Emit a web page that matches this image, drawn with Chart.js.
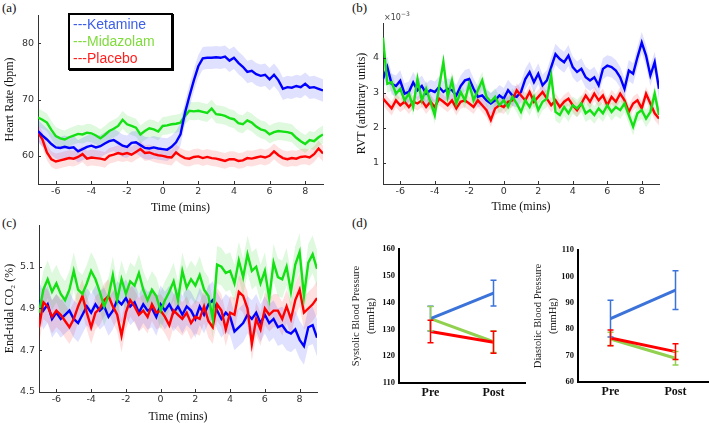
<!DOCTYPE html>
<html>
<head>
<meta charset="utf-8">
<script src="https://cdn.jsdelivr.net/npm/chart.js@4.4.1/dist/chart.umd.min.js"></script>
<style>
    body { margin: 0; width: 709px; height: 423px; overflow: hidden; position: relative; background: #fff; font-family: "Liberation Serif", "DejaVu Serif", serif; }
    canvas { position: absolute; }
    .tag { position: absolute; font-size: 13px; color: #111; line-height: 14px; }
    #legend { position: absolute; left: 68px; top: 13px; width: 98px; height: 52px; border: 2px solid #000; box-shadow: 1px 1px 0 #000; background: #fff; padding: 1px 0 0 3px; font: 14px "Liberation Sans", Arial, sans-serif; line-height: 17px; }
</style>
</head>
<body>
<div class="tag" style="left:2px;top:1px">(a)</div>
<div class="tag" style="left:352px;top:1px">(b)</div>
<div class="tag" style="left:2px;top:216px">(c)</div>
<div class="tag" style="left:352px;top:216px">(d)</div>

<canvas id="hrChart" width="330" height="218" style="left:0;top:0"></canvas>
<canvas id="rvtChart" width="313" height="218" style="left:352px;top:0"></canvas>
<canvas id="co2Chart" width="330" height="220" style="left:0;top:210px"></canvas>
<canvas id="sysChart" width="185" height="193" style="left:345px;top:230px"></canvas>
<canvas id="diaChart" width="184" height="193" style="left:525px;top:230px"></canvas>

<div id="legend">
    <div style="color:#3d5ee6">---Ketamine</div>
    <div style="color:#7fdc3c">---Midazolam</div>
    <div style="color:#ff1f1f">---Placebo</div>
</div>

<script>
const minutes = [-7, -6.75, -6.5, -6.25, -6, -5.75, -5.5, -5.25, -5, -4.75, -4.5, -4.25, -4, -3.75, -3.5, -3.25,
    -3, -2.75, -2.5, -2.25, -2, -1.75, -1.5, -1.25, -1, -0.75, -0.5, -0.25, 0, 0.25, 0.5, 0.75,
    1, 1.25, 1.5, 1.75, 2, 2.25, 2.5, 2.75, 3, 3.25, 3.5, 3.75, 4, 4.25, 4.5, 4.75,
    5, 5.25, 5.5, 5.75, 6, 6.25, 6.5, 6.75, 7, 7.25, 7.5, 7.75, 8, 8.25, 8.5, 8.75, 9];
const timeTicks = [-6, -4, -2, 0, 2, 4, 6, 8];

// (a) heart rate, bpm
const hrKetamine = [64.4, 63.6, 62.9, 62.1, 61.5, 61.4, 61.6, 61.4, 61.5, 60.8, 61.2, 61.6, 61.8, 61.5, 61.7, 62.2,
    62.6, 62.8, 62.3, 61.8, 61.6, 62.3, 62.4, 61.9, 61.4, 61.3, 61.5, 61.3, 61.2, 61.1, 61.6, 62.4,
    63.8, 67.6, 70.6, 73.4, 75.9, 77.3, 77.4, 77.4, 77.5, 77.4, 77.6, 76.9, 77.4, 76.5, 75.8, 74.9,
    75.1, 74.5, 74.2, 74.4, 73.6, 74.4, 73.4, 71.9, 72.2, 72.1, 72.4, 72.2, 72.8, 72.1, 72.2, 71.9, 71.6];
const hrMidazolam = [66.8, 66.4, 65.9, 64.6, 63.5, 63.1, 62.9, 63.3, 63.6, 63.9, 63.8, 64.1, 64.0, 63.6, 63.1, 63.7,
    64.4, 64.8, 65.3, 66.4, 65.6, 65.3, 65.0, 63.8, 64.4, 64.9, 64.7, 64.3, 65.3, 65.4, 65.6, 65.7,
    65.9, 67.1, 68.0, 67.9, 68.0, 67.8, 67.6, 68.4, 67.4, 67.3, 67.1, 66.7, 66.5, 65.8, 65.6, 66.3,
    65.9, 65.2, 64.7, 64.5, 63.8, 64.2, 64.4, 64.3, 64.2, 64.0, 63.2, 62.6, 62.1, 62.8, 62.6, 63.3, 63.8];
const hrPlacebo = [64.2, 62.9, 60.6, 59.4, 59.0, 59.2, 59.4, 59.6, 59.5, 59.8, 60.3, 59.5, 59.7, 59.6, 59.5, 59.3,
    60.0, 60.2, 60.5, 60.3, 60.5, 60.2, 60.7, 61.2, 60.5, 60.6, 60.3, 60.1, 60.0, 59.8, 59.7, 60.6,
    60.0, 59.6, 59.5, 59.8, 59.9, 59.6, 59.8, 59.6, 59.5, 59.3, 59.1, 59.4, 59.4, 59.1, 59.2, 59.6,
    59.5, 59.7, 59.9, 59.7, 60.0, 60.8, 60.1, 59.6, 59.4, 59.6, 59.5, 59.8, 59.9, 59.7, 60.3, 61.3, 60.4];
const hrSem = [2.0, 1.6, 1.4];
const hrTicks = [60, 70, 80];

// (b) RVT, x10^-3 arbitrary units
const rvtKetamine = [3.4, 3.74, 3.26, 3.2, 3.35, 2.98, 3.03, 3.3, 3.08, 3.2, 2.98, 3.08, 3.03, 3.17, 3.03, 3.12,
    3.08, 2.93, 3.2, 3.36, 3.4, 3.12, 2.89, 2.93, 2.79, 2.7, 2.79, 2.93, 2.84, 3.08, 2.93, 2.89,
    3.03, 3.4, 3.6, 3.31, 3.55, 3.22, 3.36, 3.74, 4.11, 3.97, 3.88, 4.07, 3.74, 3.6, 3.69, 3.45,
    3.36, 3.45, 3.22, 3.69, 3.78, 3.74, 3.64, 3.45, 3.12, 3.64, 3.55, 4.02, 4.44, 4.07, 3.5, 3.88, 3.12];
const rvtMidazolam = [4.58, 3.26, 3.31, 2.98, 3.12, 2.79, 2.98, 2.6, 3.4, 2.79, 3.12, 2.75, 2.37, 3.17, 3.88, 2.89,
    3.36, 2.7, 3.03, 2.79, 3.26, 2.79, 3.08, 3.36, 2.89, 2.75, 2.89, 2.65, 2.79, 2.6, 2.89, 2.7,
    2.46, 2.79, 2.6, 2.89, 2.51, 2.75, 2.84, 3.5, 2.46, 2.37, 2.6, 2.42, 2.65, 2.56, 2.7, 2.42,
    2.51, 2.37, 2.56, 2.42, 2.65, 2.46, 2.6, 2.51, 2.7, 2.37, 2.04, 2.42, 2.51, 2.27, 2.46, 2.98, 2.37];
const rvtPlacebo = [2.84, 2.7, 2.56, 2.79, 2.65, 2.75, 2.6, 2.75, 2.7, 2.79, 2.6, 2.75, 2.6, 2.84, 2.75, 2.65,
    2.79, 2.56, 2.75, 2.79, 2.7, 2.6, 2.79, 2.65, 2.51, 2.23, 2.56, 2.65, 2.6, 2.75, 2.79, 3.08,
    2.93, 2.79, 3.03, 2.75, 2.89, 3.03, 2.84, 2.65, 2.79, 2.6, 2.75, 2.84, 2.65, 2.51, 2.7, 2.93,
    2.75, 2.98, 2.79, 2.93, 2.65, 2.89, 2.75, 2.98, 2.79, 2.46, 2.7, 2.79, 2.56, 2.98, 2.7, 2.42, 2.27];
const rvtSem = [0.3, 0.25, 0.2];
const rvtTicks = [1, 2, 3, 4];

// (c) end-tidal CO2, %
const co2Ketamine = [4.94, 4.89, 4.92, 4.85, 4.88, 4.85, 4.87, 4.89, 4.85, 4.83, 4.87, 4.91, 4.88, 4.92, 4.89, 4.91,
    4.86, 4.89, 4.94, 4.92, 4.95, 4.91, 4.93, 4.88, 4.92, 4.89, 4.9, 4.86, 4.92, 4.89, 4.92, 4.88,
    4.91, 4.87, 4.91, 4.89, 4.85, 4.91, 4.87, 4.92, 4.94, 4.89, 4.85, 4.88, 4.86, 4.79, 4.81, 4.83,
    4.87, 4.85, 4.88, 4.83, 4.87, 4.83, 4.85, 4.81, 4.82, 4.79, 4.78, 4.8, 4.75, 4.72, 4.81, 4.82, 4.76];
const co2Midazolam = [4.88, 4.99, 5.04, 4.98, 5.02, 4.97, 4.94, 4.99, 5.08, 4.99, 4.97, 5.02, 5.08, 5.04, 4.98, 4.91,
    4.96, 5.06, 4.94, 5.04, 4.97, 5.03, 5.01, 5.07, 4.99, 4.94, 4.99, 4.96, 4.89, 4.94, 4.98, 5.03,
    4.94, 5.08, 5.0, 5.04, 5.01, 5.06, 4.99, 4.96, 4.85, 5.11, 5.1, 5.07, 5.08, 5.02, 5.13, 5.05,
    5.16, 5.08, 5.1, 5.02, 5.08, 4.95, 5.12, 5.05, 5.04, 5.1, 4.98, 5.11, 5.17, 4.96, 5.12, 5.16, 5.09];
const co2Placebo = [4.81, 4.93, 4.91, 4.86, 4.89, 4.87, 4.84, 4.81, 4.85, 4.91, 4.96, 4.88, 4.81, 4.88, 4.9, 4.94,
    4.96, 4.91, 4.87, 4.77, 4.88, 4.94, 4.91, 4.87, 4.89, 4.86, 4.92, 4.88, 4.89, 4.86, 4.82, 4.89,
    4.87, 4.85, 4.88, 4.83, 4.86, 4.85, 4.91, 4.84, 4.81, 4.92, 4.89, 4.8, 4.88, 4.87, 4.98, 4.96,
    4.9, 4.73, 4.85, 4.8, 4.9, 4.87, 4.89, 4.89, 4.85, 4.91, 4.85, 4.94, 4.99, 4.88, 4.9, 4.92, 4.95];
const co2Sem = [0.09, 0.09, 0.08];
const co2Ticks = [4.5, 4.7, 4.9, 5.1];

// (d) blood pressure, mmHg, mean and error
const bpPhases = ["Pre", "Post"];
const sysKetamine = [134, 143.5], sysKetamineErr = [4.6, 4.8];
const sysMidazolam = [134, 125.4], sysMidazolamErr = [4.5, 4.0];
const sysPlacebo = [129.2, 125.2], sysPlaceboErr = [4.2, 4.1];
const diaKetamine = [84, 94.8], diaKetamineErr = [7.0, 7.3];
const diaMidazolam = [76.3, 69], diaMidazolamErr = [2.5, 2.6];
const diaPlacebo = [76.7, 71.5], diaPlaceboErr = [3.0, 3.0];
const sysTicks = [110, 120, 130, 140, 150, 160];
const diaTicks = [60, 70, 80, 90, 100, 110];

const lineColors = ["#0000ff", "#14e014", "#ff0000"];
const bandColors = ["rgba(0,0,255,0.12)", "rgba(0,210,0,0.13)", "rgba(255,0,0,0.12)"];
const bpColors = ["#3b73d9", "#92d050", "#ff0000"];

const serif = "'Liberation Serif', 'DejaVu Serif', serif";
const sans = "'DejaVu Sans', sans-serif";

const inwardTicks = {
    id: "inwardTicks",
    afterDraw(chart) {
        const { ctx, chartArea: a, scales: { x, y } } = chart;
        ctx.save();
        ctx.strokeStyle = "#333";
        ctx.lineWidth = 1;
        ctx.beginPath();
        x.ticks.forEach(t => {
            const px = Math.round(x.getPixelForValue(t.value)) + 0.5;
            ctx.moveTo(px, a.bottom);
            ctx.lineTo(px, a.bottom - 3);
        });
        y.ticks.forEach(t => {
            const py = Math.round(y.getPixelForValue(t.value)) + 0.5;
            ctx.moveTo(a.left, py);
            ctx.lineTo(a.left + 3, py);
        });
        ctx.stroke();
        ctx.restore();
    }
};

const errorBars = {
    id: "errorBars",
    afterDatasetsDraw(chart) {
        const { ctx, scales: { y } } = chart;
        ctx.save();
        ctx.lineWidth = 1.5;
        chart.data.datasets.forEach((ds, i) => {
            const meta = chart.getDatasetMeta(i);
            ctx.strokeStyle = ds.borderColor;
            ds.data.forEach((v, j) => {
                const px = meta.data[j].x;
                const top = y.getPixelForValue(v + ds.errors[j]);
                const bottom = y.getPixelForValue(v - ds.errors[j]);
                ctx.beginPath();
                ctx.moveTo(px, top); ctx.lineTo(px, bottom);
                ctx.moveTo(px - 3, top); ctx.lineTo(px + 3, top);
                ctx.moveTo(px - 3, bottom); ctx.lineTo(px + 3, bottom);
                ctx.stroke();
            });
        });
        ctx.restore();
    }
};

const rvtExponent = {
    id: "rvtExponent",
    afterDraw(chart) {
        const { ctx, chartArea: a } = chart;
        ctx.save();
        ctx.fillStyle = "#444";
        ctx.font = "8px " + sans;
        ctx.textBaseline = "alphabetic";
        ctx.fillText("×10", a.left + 1, a.top - 3);
        ctx.font = "6px " + sans;
        ctx.fillText("−3", a.left + 18, a.top - 7);
        ctx.restore();
    }
};

function toPoints(values, shift) {
    return values.map((v, i) => ({ x: minutes[i], y: v + shift }));
}

function timeChart(id, cfg) {
    const datasets = [];
    cfg.series.forEach((values, k) => {
        datasets.push({
            data: toPoints(values, 0),
            borderColor: lineColors[k],
            borderWidth: 2.4,
            fill: false,
            order: cfg.lineOrder[k]
        });
    });
    cfg.series.forEach((values, k) => {
        datasets.push({
            data: toPoints(values, cfg.sem[k]),
            borderWidth: 0,
            borderColor: "transparent",
            backgroundColor: bandColors[k],
            fill: "+1",
            order: 10
        });
        datasets.push({
            data: toPoints(values, -cfg.sem[k]),
            borderWidth: 0,
            borderColor: "transparent",
            fill: false,
            order: 10
        });
    });

    return new Chart(document.getElementById(id), {
        type: "line",
        data: { datasets },
        plugins: [inwardTicks].concat(cfg.plugins || []),
        options: {
            responsive: false,
            animation: false,
            devicePixelRatio: 1,
            layout: { padding: { top: cfg.padTop, right: cfg.padRight, left: 0, bottom: 0 } },
            elements: { point: { radius: 0 }, line: { tension: 0 } },
            plugins: { legend: { display: false }, tooltip: { enabled: false } },
            scales: {
                x: {
                    type: "linear",
                    min: -7,
                    max: 9,
                    afterBuildTicks: s => { s.ticks = timeTicks.map(v => ({ value: v })); },
                    afterFit: s => { s.height = cfg.xHeight; },
                    grid: { display: false, drawTicks: false },
                    border: { display: true, color: "#333", width: 1 },
                    ticks: { color: "#333", padding: 2, font: { family: sans, size: 9.5 }, callback: v => String(v) },
                    title: { display: true, text: "Time (mins)", color: "#111", font: { family: serif, size: 12 }, padding: { top: 0, bottom: cfg.xTitlePad } }
                },
                y: {
                    min: cfg.yMin,
                    max: cfg.yMax,
                    afterBuildTicks: s => { s.ticks = cfg.yTicks.map(v => ({ value: v })); },
                    afterFit: s => { s.width = cfg.yWidth; },
                    grid: { display: false, drawTicks: false },
                    border: { display: true, color: "#333", width: 1 },
                    ticks: { color: "#333", padding: 4, font: { family: sans, size: 9.5 }, callback: v => String(v) },
                    title: { display: true, text: cfg.yTitle, color: "#111", font: { family: serif, size: 12 }, padding: { top: 3, bottom: 0 } }
                }
            }
        }
    });
}

function bpChart(id, cfg) {
    const datasets = cfg.series.map((values, k) => ({
        data: values,
        errors: cfg.errors[k],
        borderColor: bpColors[k],
        borderWidth: 3,
        fill: false,
        order: cfg.lineOrder[k]
    }));

    return new Chart(document.getElementById(id), {
        type: "line",
        data: { labels: bpPhases, datasets },
        plugins: [errorBars],
        options: {
            responsive: false,
            animation: false,
            devicePixelRatio: 1,
            layout: { padding: { top: cfg.padTop, right: cfg.padRight, left: 0, bottom: 0 } },
            elements: { point: { radius: 0 }, line: { tension: 0 } },
            plugins: { legend: { display: false }, tooltip: { enabled: false } },
            scales: {
                x: {
                    type: "category",
                    offset: true,
                    afterFit: s => { s.height = cfg.xHeight; },
                    grid: { display: false, drawTicks: false },
                    border: { display: true, color: "#000", width: 2 },
                    ticks: { color: "#111", padding: 3, font: { family: serif, size: 12, weight: "bold" } }
                },
                y: {
                    min: cfg.yTicks[0],
                    max: cfg.yTicks[cfg.yTicks.length - 1],
                    afterBuildTicks: s => { s.ticks = cfg.yTicks.map(v => ({ value: v })); },
                    afterFit: s => { s.width = cfg.yWidth; },
                    grid: { display: false, drawTicks: false },
                    border: { display: true, color: "#000", width: 2 },
                    ticks: { color: "#111", padding: 4, font: { family: serif, size: 8.5, weight: "bold" } },
                    title: {
                        display: true,
                        text: [cfg.yTitle, "(mmHg)"],
                        color: "#222",
                        font: { family: serif, size: 10.5, lineHeight: 1.5 },
                        padding: { top: cfg.yTitlePad, bottom: 0 }
                    }
                }
            }
        }
    });
}

timeChart("hrChart", {
    series: [hrKetamine, hrMidazolam, hrPlacebo],
    sem: hrSem,
    lineOrder: [0, 1, 2],
    yMin: 55, yMax: 85, yTicks: hrTicks,
    yTitle: "Heart Rate (bpm)",
    yWidth: 38, xHeight: 34, padTop: 15, padRight: 7, xTitlePad: 3
});

timeChart("rvtChart", {
    series: [rvtKetamine, rvtMidazolam, rvtPlacebo],
    sem: rvtSem,
    lineOrder: [2, 0, 1],
    yMin: 0.4, yMax: 5, yTicks: rvtTicks,
    yTitle: "RVT (arbitrary units)",
    yWidth: 31, xHeight: 34, padTop: 23, padRight: 6, xTitlePad: 4,
    plugins: [rvtExponent]
});

timeChart("co2Chart", {
    series: [co2Ketamine, co2Midazolam, co2Placebo],
    sem: co2Sem,
    lineOrder: [2, 0, 1],
    yMin: 4.5, yMax: 5.3, yTicks: co2Ticks,
    yTitle: "End-tidal CO₂ (%)",
    yWidth: 39, xHeight: 38, padTop: 15, padRight: 13, xTitlePad: 6
});

bpChart("sysChart", {
    series: [sysKetamine, sysMidazolam, sysPlacebo],
    errors: [sysKetamineErr, sysMidazolamErr, sysPlaceboErr],
    lineOrder: [1, 2, 0],
    yTicks: sysTicks,
    yTitle: "Systolic Blood Pressure",
    yWidth: 54, xHeight: 40, padTop: 19, padRight: 5, yTitlePad: 3
});

bpChart("diaChart", {
    series: [diaKetamine, diaMidazolam, diaPlacebo],
    errors: [diaKetamineErr, diaMidazolamErr, diaPlaceboErr],
    lineOrder: [1, 2, 0],
    yTicks: diaTicks,
    yTitle: "Diastolic Blood Pressure",
    yWidth: 53, xHeight: 41, padTop: 20, padRight: 1, yTitlePad: 5
});
</script>
</body>
</html>
